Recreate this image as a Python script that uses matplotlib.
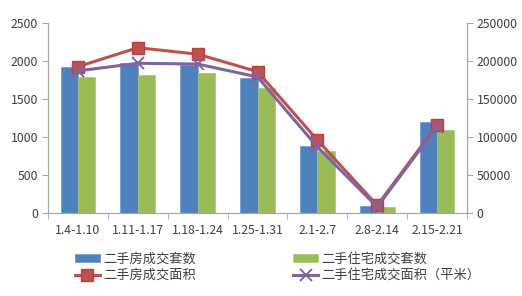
import matplotlib
matplotlib.use("Agg")
import matplotlib.pyplot as plt
import numpy as np
from matplotlib.ticker import FixedLocator

plt.rcParams['font.family'] = ['Noto Sans CJK SC', 'DejaVu Sans']

weeks = ["1.4-1.10", "1.11-1.17", "1.18-1.24", "1.25-1.31", "2.1-2.7", "2.8-2.14", "2.15-2.21"]
units_all = [1925, 1970, 1947, 1780, 882, 90, 1197]
units_res = [1793, 1816, 1838, 1649, 816, 80, 1096]
area_all = [192500, 217500, 209000, 186000, 96000, 10000, 115800]
area_res = [187000, 197000, 196000, 179000, 87000, 8000, 113500]

names = ["二手房成交套数", "二手住宅成交套数", "二手房成交面积", "二手住宅成交面积（平米）"]
c_blue, c_green, c_red, c_purple = "#4F81BD", "#9BBB59", "#C0504D", "#8064A2"
axis_col = "#A6A6A6"
txt_col = "#404040"

fig = plt.figure(figsize=(5.22, 2.96), dpi=100)
ax = fig.add_axes([48/522, 1-213/296, (467-48)/522, (213-23)/296])
ax2 = ax.twinx()

x = np.arange(len(weeks))
w = 0.29
b1 = ax.bar(x - w/2, units_all, w, color=c_blue, edgecolor="#6C96CC", linewidth=0.5)
b2 = ax.bar(x + w/2, units_res, w, color=c_green, edgecolor="#A9C670", linewidth=0.5)

l1, = ax2.plot(x, area_all, color=c_red, lw=2.2, marker="s", ms=8, mfc=c_red, mec="#B8413E", zorder=3)
l2, = ax2.plot(x, area_res, color=c_purple, lw=2.2, marker="x", ms=9, mew=1.4, zorder=4)

ax.set_xlim(-0.5, len(weeks) - 0.5)
ax.set_ylim(0, 2500)
ax2.set_ylim(0, 250000)
ax.set_yticks(np.arange(0, 2501, 500))
ax2.set_yticks(np.arange(0, 250001, 50000))

ax.set_xticks(x)
ax.set_xticklabels(weeks)
ax.xaxis.set_minor_locator(FixedLocator(np.arange(-0.5, len(weeks), 1.0)))
ax.tick_params(axis="x", which="major", length=0, pad=8, labelsize=8.8, labelcolor=txt_col)
ax.tick_params(axis="x", which="minor", length=4, color=axis_col, direction="out")
ax.tick_params(axis="y", length=4, color=axis_col, labelsize=8.8, labelcolor=txt_col, pad=3)
ax2.tick_params(axis="y", length=4, color=axis_col, labelsize=8.8, labelcolor=txt_col, pad=3)

for a in (ax, ax2):
    a.spines["top"].set_visible(False)
    for s in ("left", "right", "bottom"):
        a.spines[s].set_color(axis_col)
        a.spines[s].set_linewidth(0.8)

ax.set_zorder(ax2.get_zorder() - 1)
ax2.patch.set_visible(False)

# two columns, filled column by column: bars on the first row, lines on the second
fig.legend([b1, l1, b2, l2], [names[0], names[2], names[1], names[3]],
           loc="upper left", ncol=2,
           bbox_to_anchor=(68/522, 1-246/296), frameon=False,
           fontsize=9.5, labelcolor=txt_col, handlelength=1.9, handleheight=0.55,
           handletextpad=0.25, columnspacing=7.4, labelspacing=0.25, borderpad=0)

fig.savefig("out.png", dpi=100)
